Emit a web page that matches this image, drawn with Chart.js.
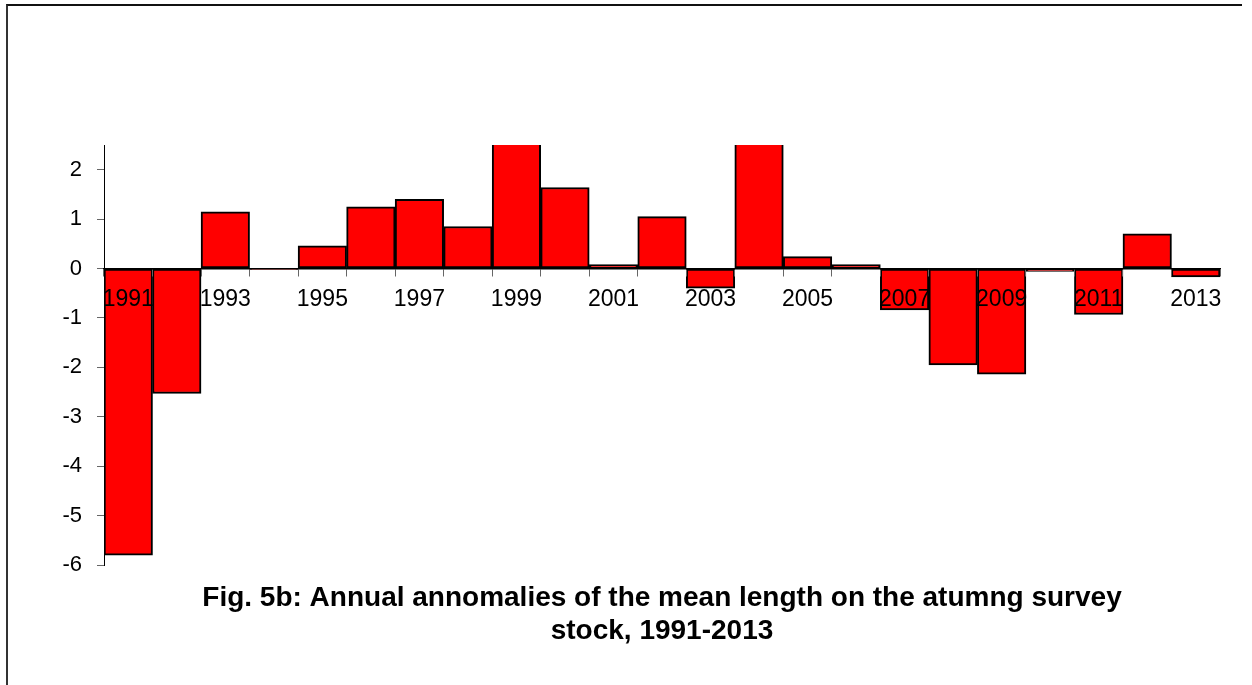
<!DOCTYPE html>
<html>
<head>
<meta charset="utf-8">
<script src="https://cdn.jsdelivr.net/npm/chart.js@4.4.1/dist/chart.umd.min.js"></script>
<style>
  html, body { margin: 0; padding: 0; background: #fff; }
  #wrap { position: relative; width: 1252px; height: 685px; overflow: hidden; }
  #frame { position: absolute; left: 6px; top: 4px; width: 1236px; height: 720px;
           border-left: 2px solid #333; border-top: 2px solid #111; box-sizing: border-box; }
  canvas { position: absolute; left: 0; top: 0; }
</style>
</head>
<body>
<div id="wrap">
  <div id="frame"></div>
  <canvas id="c" width="1252" height="685"></canvas>
</div>
<script>
const years = ['1991','1992','1993','1994','1995','1996','1997','1998','1999','2000','2001','2002',
               '2003','2004','2005','2006','2007','2008','2009','2010','2011','2012','2013'];
const anomalies = [-5.8, -2.53, 1.15, -0.02, 0.46, 1.25, 1.40, 0.85, 2.9, 1.64, 0.08, 1.05,
                   -0.40, 3.1, 0.24, 0.08, -0.84, -1.95, -2.14, -0.06, -0.93, 0.70, -0.17];
const yTicks = [-6, -5, -4, -3, -2, -1, 0, 1, 2];
const titleLines = ['Fig. 5b: Annual annomalies of the mean length on the atumng survey',
                    'stock, 1991-2013'];

const FONT = '"Liberation Sans", Arial, sans-serif';

new Chart(document.getElementById('c'), {
  type: 'bar',
  data: {
    labels: years,
    datasets: [{
      data: anomalies,
      backgroundColor: '#FF0000',
      borderColor: '#000000',
      borderWidth: 2,
      borderSkipped: false,
      categoryPercentage: 1.0,
      barPercentage: 1.0
    }]
  },
  options: {
    responsive: false,
    animation: false,
    devicePixelRatio: 1,
    layout: { padding: { left: 7, right: 32, top: 145, bottom: 36.8 } },
    plugins: {
      legend: { display: false },
      tooltip: { enabled: false },
      title: {
        display: true,
        position: 'bottom',
        fullSize: false,
        text: titleLines,
        color: '#000',
        font: { family: FONT, size: 28, weight: 'bold', lineHeight: 1.2 },
        padding: { top: 16, bottom: 0 }
      }
    },
    scales: {
      x: {
        type: 'category',
        position: { y: 0 },
        offset: true,
        grid: {
          offset: true,
          drawOnChartArea: false,
          drawTicks: true,
          tickLength: 7,
          tickWidth: 1,
          tickColor: '#666',
          z: 1
        },
        border: { display: true, color: '#000', width: 1.5, z: 1 },
        ticks: {
          autoSkip: false,
          maxRotation: 0,
          minRotation: 0,
          padding: 10,
          color: '#000',
          z: 1,
          font: { family: FONT, size: 23 },
          callback: function(value, index) { return index % 2 === 0 ? years[index] : ''; }
        }
      },
      y: {
        min: yTicks[0],
        max: 2.5,
        afterFit: function(scale) { scale.width = 97; },
        afterBuildTicks: function(scale) { scale.ticks = yTicks.map(v => ({ value: v })); },
        grid: {
          drawOnChartArea: false,
          drawTicks: true,
          tickLength: 7,
          tickColor: '#666'
        },
        border: { display: true, color: '#000', width: 1 },
        ticks: {
          stepSize: 1,
          includeBounds: false,
          padding: 15,
          color: '#000',
          font: { family: FONT, size: 22 }
        }
      }
    }
  }
});
</script>
</body>
</html>
